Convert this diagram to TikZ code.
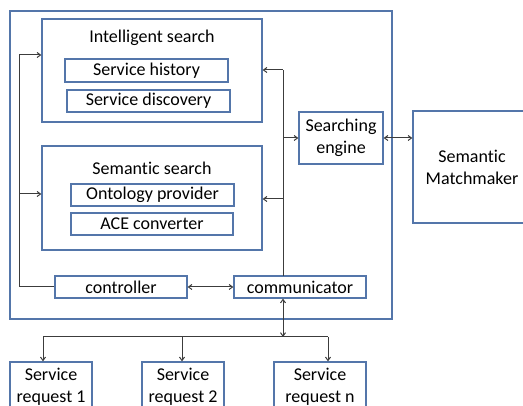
\documentclass[tikz,border=0pt]{standalone}
\usepackage{fontspec}
\setmainfont{Carlito}[Ligatures=NoCommon]
\usetikzlibrary{arrows.meta}

\definecolor{boxblue}{RGB}{84,118,170}
\definecolor{linegray}{RGB}{60,60,60}

\tikzset{
    label text/.style={font=\fontsize{18}{22}\selectfont},
    box/.style={draw=boxblue, line width=1.2pt, inner sep=0pt, align=center, label text},
    conn/.style={draw=linegray, line width=1pt},
    arr/.style={conn, -{Straight Barb[length=3.5pt,width=5pt]}},
    darr/.style={conn, {Straight Barb[length=3.5pt,width=5pt]}-{Straight Barb[length=3.5pt,width=5pt]}}
}

\begin{document}
\begin{tikzpicture}[x=1pt, y=-1pt]
    \path[use as bounding box, clip] (0,0) rectangle (523,406);

    % system frame
    \node[box, minimum width=382, minimum height=308] (system) at (201,165) {};

    \node[box, minimum width=220, minimum height=103] (intel) at (152,70.5) {};
    \node[label text] (inteltitle) at (152,38) {Intelligent search};
    \node[box, minimum width=163, minimum height=23] (hist) at (146.5,70.5) {Service history};
    \node[box, minimum width=163, minimum height=22] (disc) at (148.5,101) {Service discovery};

    \node[box, minimum width=220, minimum height=104] (sem) at (152,198) {};
    \node[label text] (semtitle) at (152,168) {Semantic search};
    \node[box, minimum width=163, minimum height=22] (onto) at (152.5,195) {Ontology provider};
    \node[box, minimum width=162, minimum height=22] (ace) at (152,224) {ACE converter};

    \node[box, minimum width=84, minimum height=52] (engine) at (341,138) {Searching\\engine};
    \node[box, minimum width=118, minimum height=112] (matcher) at (472,167) {Semantic\\Matchmaker};

    \node[box, minimum width=132, minimum height=22] (ctrl) at (121,287) {controller};
    \node[box, minimum width=132, minimum height=22] (comm) at (300,287) {communicator};

    \node[box, minimum width=82, minimum height=50] (req1) at (51,387) {Service\\request 1};
    \node[box, minimum width=82, minimum height=50] (req2) at (183,387) {Service\\request 2};
    \node[box, minimum width=92, minimum height=50] (reqn) at (320,387) {Service\\request n};

    % left bus
    \coordinate (lbot) at (19,287);
    \coordinate (ltop) at (19,55);
    \coordinate (lmid) at (19,194);
    \draw[conn] (ctrl.west) -- (lbot) -- (ltop);
    \draw[arr] (ltop) -- (intel.west |- ltop);
    \draw[arr] (lmid) -- (sem.west |- lmid);

    % right bus
    \coordinate (rtop) at (283,70);
    \coordinate (rbot) at (283,276);
    \coordinate (rmid) at (283,199);
    \draw[conn] (rbot) -- (rtop);
    \draw[arr] (rtop) -- (intel.east |- rtop);
    \draw[arr] (rmid) -- (sem.east |- rmid);
    \draw[arr] (rtop |- engine.west) -- (engine.west);

    \draw[darr] (engine.east) -- (matcher.west |- engine.east);
    \draw[darr] (ctrl.east) -- (comm.west);

    % request bus
    \coordinate (bus1) at (43,337);
    \coordinate (bus2) at (182,337);
    \coordinate (busn) at (328,337);
    \draw[darr] (comm.south -| rtop) -- (rtop |- busn);
    \draw[conn] (bus1) -- (busn);
    \draw[arr] (bus1) -- (bus1 |- req1.north);
    \draw[arr] (bus2) -- (bus2 |- req2.north);
    \draw[arr] (busn) -- (busn |- reqn.north);
\end{tikzpicture}
\end{document}
